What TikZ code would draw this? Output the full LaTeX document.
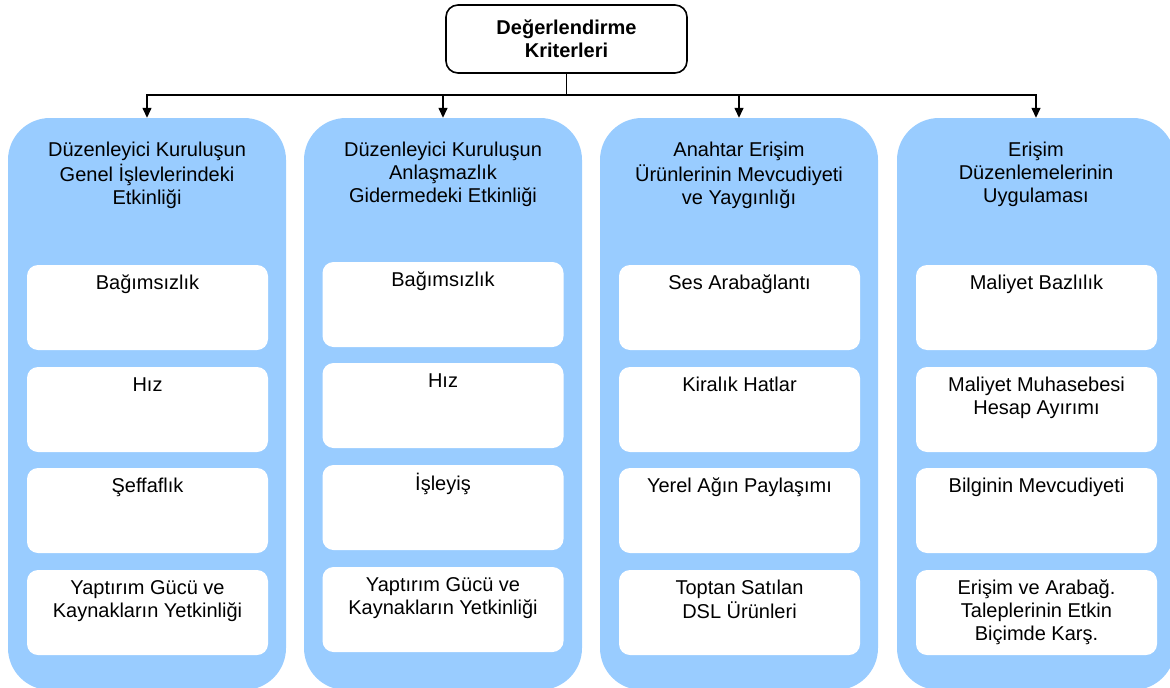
\documentclass[tikz,border=0pt]{standalone}
\usepackage{fontspec}
\setmainfont{Liberation Sans}
\usetikzlibrary{arrows.meta}
\definecolor{colblue}{RGB}{153,204,255}
\tikzset{
 colbox/.style={fill=colblue, draw=none, rounded corners=42pt, minimum width=278pt, minimum height=572pt, inner sep=0pt},
 inbox/.style={fill=white, draw=none, rounded corners=11pt, minimum width=241pt, minimum height=85pt, inner sep=0pt},
 txt/.style={font=\fontsize{20}{23}\selectfont, align=center, inner sep=0pt, anchor=north},
 topbox/.style={draw=black, line width=1.6pt, fill=white, rounded corners=12pt, minimum width=241pt, minimum height=68pt, font=\fontsize{20}{23}\selectfont\bfseries, align=center, inner sep=0pt},
 conn/.style={line width=1.4pt, draw=black},
 arr/.style={conn, -{Triangle[width=9pt,length=10pt]}}
}
\begin{document}
\begin{tikzpicture}[x=1pt,y=-1pt]
\useasboundingbox (0,0) rectangle (1170,688);
% columns
\node[colbox] (c1) at (147,404) {};
\node[colbox] (c2) at (443,404) {};
\node[colbox] (c3) at (739,404) {};
\node[colbox] (c4) at (1036,404) {};
% headers
\node[txt,yshift=-22.6pt] (h1) at (c1.north) {\strut Düzenleyici Kuruluşun\\Genel İşlevlerindeki\\Etkinliği};
\node[txt,yshift=-22.6pt] (h2) at (c2.north) {\strut Düzenleyici Kuruluşun\\Anlaşmazlık\\Gidermedeki Etkinliği};
\node[txt,yshift=-22.6pt] (h3) at (c3.north) {\strut Anahtar Erişim\\Ürünlerinin Mevcudiyeti\\ve Yaygınlığı};
\node[txt,yshift=-22.6pt] (h4) at (c4.north) {\strut Erişim\\Düzenlemelerinin\\Uygulaması};
% inner boxes column 1
\node[inbox] (b11) at (147.5,307.5) {};
\node[inbox] (b12) at (147.5,409.5) {};
\node[inbox] (b13) at (147.5,510.5) {};
\node[inbox] (b14) at (147.5,612.5) {};
% column 2
\node[inbox] (b21) at (443,304.5) {};
\node[inbox] (b22) at (443,405.5) {};
\node[inbox] (b23) at (443,507.5) {};
\node[inbox] (b24) at (443,609.5) {};
% column 3
\node[inbox] (b31) at (739.5,307.5) {};
\node[inbox] (b32) at (739.5,409.5) {};
\node[inbox] (b33) at (739.5,510.5) {};
\node[inbox] (b34) at (739.5,612.5) {};
% column 4
\node[inbox] (b41) at (1036.5,307.5) {};
\node[inbox] (b42) at (1036.5,409.5) {};
\node[inbox] (b43) at (1036.5,510.5) {};
\node[inbox] (b44) at (1036.5,612.5) {};
% inner texts
\node[txt,yshift=-8pt] (t11) at (b11.north) {\strut Bağımsızlık};
\node[txt,yshift=-8pt] (t12) at (b12.north) {\strut Hız};
\node[txt,yshift=-8pt] (t13) at (b13.north) {\strut Şeffaflık};
\node[txt,yshift=-8pt] (t14) at (b14.north) {\strut Yaptırım Gücü ve\\Kaynakların Yetkinliği};
\node[txt,yshift=-8pt] (t21) at (b21.north) {\strut Bağımsızlık};
\node[txt,yshift=-8pt] (t22) at (b22.north) {\strut Hız};
\node[txt,yshift=-8pt] (t23) at (b23.north) {\strut İşleyiş};
\node[txt,yshift=-8pt] (t24) at (b24.north) {\strut Yaptırım Gücü ve\\Kaynakların Yetkinliği};
\node[txt,yshift=-8pt] (t31) at (b31.north) {\strut Ses Arabağlantı};
\node[txt,yshift=-8pt] (t32) at (b32.north) {\strut Kiralık Hatlar};
\node[txt,yshift=-8pt] (t33) at (b33.north) {\strut Yerel Ağın Paylaşımı};
\node[txt,yshift=-8pt] (t34) at (b34.north) {\strut Toptan Satılan\\DSL Ürünleri};
\node[txt,yshift=-8pt] (t41) at (b41.north) {\strut Maliyet Bazlılık};
\node[txt,yshift=-8pt] (t42) at (b42.north) {\strut Maliyet Muhasebesi\\Hesap Ayırımı};
\node[txt,yshift=-8pt] (t43) at (b43.north) {\strut Bilginin Mevcudiyeti};
\node[txt,yshift=-8pt] (t44) at (b44.north) {\strut Erişim ve Arabağ.\\Taleplerinin Etkin\\Biçimde Karş.};
% top box
\node[topbox] (top) at (566.5,39) {Değerlendirme\\Kriterleri};
% connectors
\draw[conn] (top.south) -- (566.5,95) coordinate (bus);
\draw[arr] (bus) -| (c1.north);
\draw[arr] (bus) -| (c2.north);
\draw[arr] (bus) -| (c3.north);
\draw[arr] (bus) -| (c4.north);
\end{tikzpicture}
\end{document}
